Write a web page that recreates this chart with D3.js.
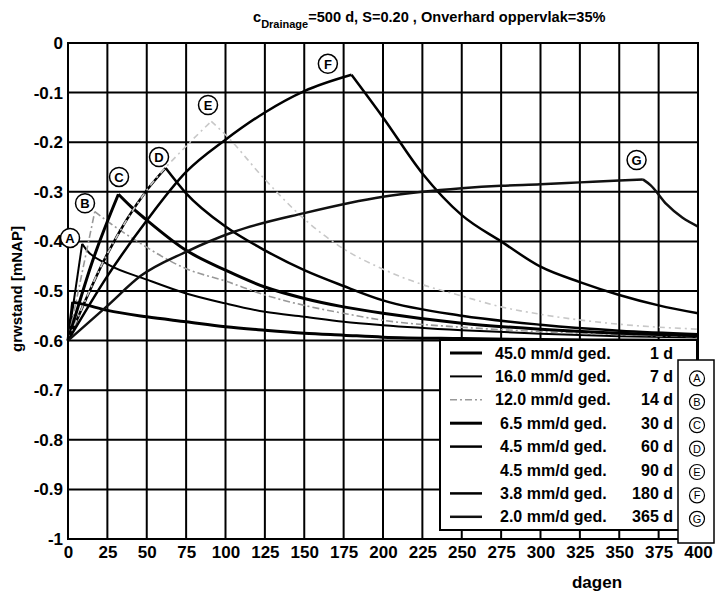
<!DOCTYPE html>
<meta charset="utf-8">
<style>
body { margin: 0; background: #fff; }
text { font-family: "Liberation Sans", Arial, sans-serif; font-weight: bold; fill: #000; }
.grid line { stroke: #000; stroke-width: 2px; }
.axis path, .axis line { display: none; }
.axis text { font-size: 17px; }
.series { fill: none; }
</style>
<body>
<script src="https://d3js.org/d3.v7.min.js"></script>
<script>

// scenario labels
var rates = ["45.0", "16.0", "12.0", "6.5", "4.5", "4.5", "3.8", "2.0"];
var durations = [1, 7, 14, 30, 60, 90, 180, 365];
var letters = ["", "A", "B", "C", "D", "E", "F", "G"];

// axis ticks
var xTicks = d3.range(0, 401, 25);
var yTicks = [0, -0.1, -0.2, -0.3, -0.4, -0.5, -0.6, -0.7, -0.8, -0.9, -1];

// groundwater level per scenario (days, mNAP)
var t1 = [0, 3, 10, 25, 50, 75, 100, 125, 150, 175, 200, 250, 300, 350, 400];
var v1 = [-0.6, -0.522, -0.527, -0.539, -0.552, -0.562, -0.572, -0.579, -0.585, -0.589, -0.593, -0.596, -0.598, -0.599, -0.6];
var tA = [0, 9, 12, 25, 50, 75, 100, 125, 150, 175, 200, 250, 300, 350, 400];
var vA = [-0.6, -0.405, -0.418, -0.446, -0.477, -0.505, -0.525, -0.542, -0.552, -0.562, -0.569, -0.579, -0.586, -0.591, -0.594];
var tB = [0, 17, 24, 44, 75, 100, 125, 150, 175, 200, 250, 300, 350, 400];
var vB = [-0.6, -0.34, -0.357, -0.4, -0.455, -0.48, -0.508, -0.529, -0.545, -0.559, -0.573, -0.582, -0.588, -0.592];
var tC = [0, 15, 32, 40, 50, 75, 100, 125, 150, 175, 200, 250, 300, 350, 400];
var vC = [-0.6, -0.445, -0.305, -0.33, -0.357, -0.418, -0.458, -0.492, -0.515, -0.532, -0.545, -0.565, -0.577, -0.585, -0.59];
var tD = [0, 25, 50, 62, 75, 100, 125, 150, 175, 200, 250, 300, 350, 400];
var vD = [-0.6, -0.425, -0.297, -0.252, -0.303, -0.37, -0.418, -0.458, -0.49, -0.519, -0.55, -0.568, -0.58, -0.587];
var tE = [0, 25, 50, 75, 91, 100, 125, 150, 175, 200, 225, 250, 275, 300, 350, 400];
var vE = [-0.6, -0.425, -0.297, -0.208, -0.158, -0.185, -0.275, -0.355, -0.415, -0.456, -0.487, -0.51, -0.532, -0.547, -0.567, -0.577];
var tF = [0, 25, 50, 75, 100, 125, 150, 180, 200, 225, 250, 275, 300, 325, 350, 375, 400];
var vF = [-0.6, -0.47, -0.358, -0.26, -0.195, -0.14, -0.097, -0.064, -0.15, -0.263, -0.347, -0.4, -0.451, -0.482, -0.508, -0.529, -0.545];
var tG = [0, 25, 46, 75, 105, 150, 200, 225, 250, 275, 300, 325, 350, 365, 370, 380, 390, 400];
var vG = [-0.6, -0.53, -0.47, -0.421, -0.381, -0.343, -0.31, -0.3, -0.293, -0.288, -0.285, -0.281, -0.277, -0.275, -0.287, -0.325, -0.352, -0.37];

// where the circled letters sit in the plot (days, mNAP)
var labelT = [1.3, 10.8, 32.4, 57.8, 88.9, 165, 361];
var labelV = [-0.393, -0.323, -0.27, -0.23, -0.125, -0.042, -0.236];

var times = [t1, tA, tB, tC, tD, tE, tF, tG];
var levels = [v1, vA, vB, vC, vD, vE, vF, vG];

// line look per scenario
var styles = [
  {color: "#000", w: 3, dash: null},
  {color: "#000", w: 2, dash: null},
  {color: "#999", w: 1.6, dash: "7,3,2,3"},
  {color: "#000", w: 3, dash: null},
  {color: "#000", w: 2.5, dash: null},
  {color: "#c8c8c8", w: 1.6, dash: "6,4,2,4"},
  {color: "#000", w: 2.5, dash: null},
  {color: "#111", w: 2.5, dash: null}
];

var margin = {top: 43, left: 68},
  width = 630,
  height = 496;

var svg = d3.select("body").append("svg")
  .attr("width", 716)
  .attr("height", 596);

var g = svg.append("g")
  .attr("transform", "translate(" + margin.left + "," + margin.top + ")");

var x = d3.scaleLinear().domain([0, 400]).range([0, width]);
var y = d3.scaleLinear().domain([-1, 0]).range([height, 0]);

// grid
var grid = g.append("g").attr("class", "grid");
grid.selectAll(".vx").data(xTicks).enter().append("line")
  .attr("x1", d => x(d)).attr("x2", d => x(d))
  .attr("y1", 0).attr("y2", height);
grid.selectAll(".hy").data(yTicks).enter().append("line")
  .attr("x1", 0).attr("x2", width)
  .attr("y1", d => y(d)).attr("y2", d => y(d));

// axes (labels only)
g.append("g").attr("class", "axis")
  .attr("transform", "translate(0," + height + ")")
  .call(d3.axisBottom(x).tickValues(xTicks).tickSize(0).tickPadding(7));
g.append("g").attr("class", "axis")
  .call(d3.axisLeft(y).tickValues(yTicks).tickSize(0).tickPadding(5)
    .tickFormat(d => String(+d.toFixed(1))));

// the curves, split at the peak so the top stays sharp
var line = d3.line()
  .x(d => x(d[0]))
  .y(d => y(d[1]))
  .curve(d3.curveMonotoneX);

times.forEach(function(ts, i) {
  var pts = ts.map((t, j) => [t, levels[i][j]]);
  var pk = d3.maxIndex(levels[i]);
  [pts.slice(0, pk + 1), pts.slice(pk)].forEach(function(seg) {
    g.append("path")
      .attr("class", "series")
      .attr("d", line(seg))
      .attr("stroke", styles[i].color)
      .attr("stroke-width", styles[i].w)
      .attr("stroke-dasharray", styles[i].dash);
  });
});

// frame
g.append("rect")
  .attr("width", width).attr("height", height)
  .attr("fill", "none").attr("stroke", "#000").attr("stroke-width", 2);

// circled letters in the plot
var marks = g.selectAll(".mark").data(labelT).enter().append("g")
  .attr("transform", (d, i) => "translate(" + x(d) + "," + y(labelV[i]) + ")");
marks.append("circle")
  .attr("r", 9.5).attr("fill", "#fff").attr("stroke", "#000").attr("stroke-width", 1.5);
marks.append("text")
  .attr("text-anchor", "middle").attr("dy", "0.36em")
  .style("font-size", "13px")
  .text((d, i) => letters[i + 1]);

// legend
var lg = svg.append("g");
lg.append("rect")
  .attr("x", 440).attr("y", 340).attr("width", 257).attr("height", 190)
  .attr("fill", "#fff").attr("stroke", "#000").attr("stroke-width", 2);

var rowY = i => 353 + i * 23.4;
rates.forEach(function(r, i) {
  lg.append("line")
    .attr("x1", 450).attr("x2", 482)
    .attr("y1", rowY(i)).attr("y2", rowY(i))
    .attr("stroke", i === 5 ? "#fff" : styles[i].color)
    .attr("stroke-width", styles[i].w)
    .attr("stroke-dasharray", styles[i].dash);
  lg.append("text")
    .attr("x", r.length > 3 ? 495 : 500).attr("y", rowY(i)).attr("dy", "0.35em")
    .style("font-size", "16px")
    .text(r + " mm/d ged.");
  lg.append("text")
    .attr("x", 673).attr("y", rowY(i)).attr("dy", "0.35em")
    .attr("text-anchor", "end")
    .style("font-size", "16px")
    .text(durations[i] + " d");
});

// letter column next to the legend
lg.append("rect")
  .attr("x", 678).attr("y", 360).attr("width", 36).attr("height", 183)
  .attr("fill", "#fff").attr("stroke", "#000").attr("stroke-width", 1.5);
letters.slice(1).forEach(function(l, i) {
  var cy = rowY(i + 1) + 2;
  lg.append("circle")
    .attr("cx", 697).attr("cy", cy).attr("r", 7.5)
    .attr("fill", "none").attr("stroke", "#000").attr("stroke-width", 1.2);
  lg.append("text")
    .attr("x", 697).attr("y", cy).attr("dy", "0.36em")
    .attr("text-anchor", "middle")
    .style("font-size", "11px").style("font-weight", "normal")
    .text(l);
});

// title
var title = svg.append("text")
  .attr("x", 253).attr("y", 22)
  .style("font-size", "14.6px");
title.append("tspan").text("c");
title.append("tspan").attr("dy", 6).style("font-size", "11px").text("Drainage");
title.append("tspan").attr("dy", -6).text("=500 d, S=0.20 , Onverhard oppervlak=35%");

// axis titles
svg.append("text")
  .attr("transform", "translate(22,289) rotate(-90)")
  .attr("text-anchor", "middle")
  .style("font-size", "15px")
  .text("grwstand [mNAP]");

svg.append("text")
  .attr("x", 597).attr("y", 588)
  .attr("text-anchor", "middle")
  .style("font-size", "17px")
  .text("dagen");

</script>
</body>
